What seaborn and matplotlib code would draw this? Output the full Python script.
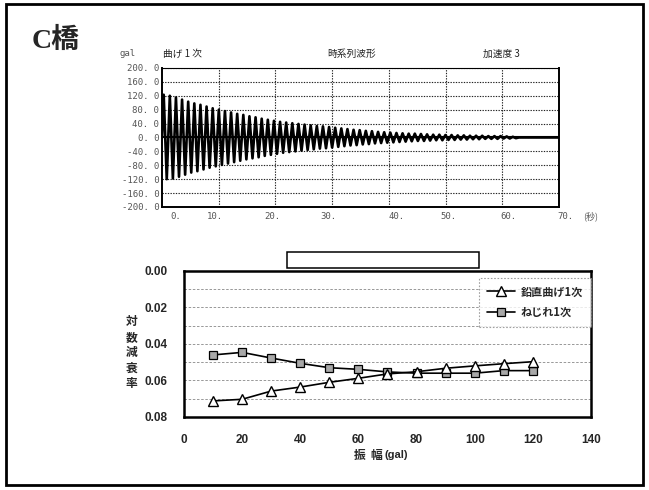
import matplotlib
matplotlib.use("Agg")
import matplotlib.pyplot as plt
import matplotlib.transforms as mtransforms
from matplotlib.patches import Rectangle
from matplotlib.lines import Line2D
import pandas as pd
import seaborn as sns

# ---- time history (acceleration, gal) : peak / trough of each cycle ----
wave_peaks = [123, 120, 115, 109, 103, 98, 94, 89, 84, 80,
              76, 72, 68, 65, 61, 58, 54, 51, 48, 45,
              43, 41, 39, 37, 35, 33, 32, 30, 28, 26,
              24, 22, 21, 19, 18, 16, 15, 14, 13, 12,
              11, 11, 10, 9, 8, 8, 7, 7, 6, 6,
              5, 5, 5, 4, 4, 4, 3, 2]
wave_troughs = [-120, -118, -113, -107, -101, -97, -92, -87, -83, -79,
                -75, -71, -67, -63, -60, -57, -53, -50, -47, -44,
                -42, -40, -38, -36, -34, -32, -31, -29, -27, -25,
                -23, -22, -20, -19, -17, -16, -15, -14, -13, -12,
                -11, -10, -10, -9, -8, -8, -7, -7, -6, -6,
                -5, -5, -4, -4, -4, -3, -3, -2]
wave_start = 0.3      # s, first peak
wave_period = 1.08    # s
record_end = 70.0     # s

top_yticks = [200, 160, 120, 80, 40, 0, -40, -80, -120, -160, -200]
top_xtick_labels = ["0.", "10.", "20.", "30.", "40.", "50.", "60.", "70."]

# ---- logarithmic decrement vs amplitude ----
amplitude = [10, 20, 30, 40, 50, 60, 70, 80, 90, 100, 110, 120]
vertical_bending = [0.0712, 0.0703, 0.0658, 0.0636, 0.0610, 0.0588,
                    0.0564, 0.0552, 0.0533, 0.0520, 0.0508, 0.0497]
torsion = [0.0460, 0.0446, 0.0477, 0.0506, 0.0530, 0.0539,
           0.0553, 0.0560, 0.0560, 0.0560, 0.0546, 0.0546]
series_names = ["鉛直曲げ1次", "ねじれ1次"]
bottom_yticks = [0.00, 0.02, 0.04, 0.06, 0.08]
bottom_xticks = [0, 20, 40, 60, 80, 100, 120, 140]

sns.set_style("white")
plt.rcParams["font.family"] = ["Noto Sans CJK JP", "DejaVu Sans"]

fig = plt.figure(figsize=(6.49, 4.90), dpi=100)
fig.patch.set_facecolor("white")

# outer frame
fig.add_artist(Rectangle((0.009, 0.010), 0.982, 0.982, transform=fig.transFigure,
                         fill=False, edgecolor="black", linewidth=2.0))

fig.text(0.049, 0.916, "C橋", fontsize=20, fontweight="bold",
         family=["Liberation Serif", "Noto Sans CJK JP"], va="center", ha="left")

# ---------------- upper panel: time history ----------------
ax1 = fig.add_axes([0.2496, 0.5776, 0.6117, 0.2837])

t_pts = [0.0]
a_pts = [0.0]
for i, (p, q) in enumerate(zip(wave_peaks, wave_troughs)):
    t_pts += [wave_start + i * wave_period, wave_start + (i + 0.5) * wave_period]
    a_pts += [p, q]
t_pts += [t_pts[-1] + wave_period / 2, record_end]
a_pts += [0.0, 0.0]
wave = pd.DataFrame({"t": t_pts, "acc": a_pts})

sns.lineplot(data=wave, x="t", y="acc", ax=ax1, color="black", linewidth=1.9,
             sort=False, estimator=None)
ax1.axhline(0, color="black", linewidth=1.5)

ax1.set_xlim(0, 70)
ax1.set_ylim(-200, 200)
ax1.set_xticks(range(10, 70, 10))
ax1.set_yticks(top_yticks)
ax1.set_xticklabels([])
ax1.set_yticklabels([f"{v:.1f}".replace(".", ". ") for v in top_yticks],
                    family="DejaVu Sans Mono", fontsize=6.5, color="#555")
ax1.tick_params(axis="both", length=0, pad=2)
ax1.grid(True, color="#222", linestyle=(0, (1.2, 1.2)), linewidth=0.8)
for side, sp in ax1.spines.items():
    sp.set_color("black")
    sp.set_linewidth(1.4 if side != "top" else 0.8)
    if side == "top":
        sp.set_linestyle((0, (1.5, 1)))
ax1.set_xlabel("")
ax1.set_ylabel("")

# x labels of the upper panel sit slightly off the grid lines
lab_pos = [2.5, 9.4, 19.4, 29.4, 41.3, 50.6, 61.0, 71.2]
trans_x = mtransforms.blended_transform_factory(ax1.transData, ax1.transAxes)
for xp, lab in zip(lab_pos, top_xtick_labels):
    ax1.text(xp, -0.07, lab, transform=trans_x, ha="center", va="center",
             family="DejaVu Sans Mono", fontsize=6.5, color="#555", clip_on=False)
ax1.text(75.5, -0.07, "(秒)", transform=trans_x, ha="center", va="center",
         fontsize=6.5, color="#555", clip_on=False)

fig.text(0.197, 0.890, "gal", fontsize=6.5, color="#555", ha="center", va="center",
         family="DejaVu Sans Mono")
fig.text(0.281, 0.890, "曲げ 1 次", fontsize=7, ha="center", va="center", color="#222")
fig.text(0.542, 0.890, "時系列波形", fontsize=7, ha="center", va="center", color="#222")
fig.text(0.773, 0.890, "加速度 3", fontsize=7, ha="center", va="center", color="#222")

# empty title box
fig.add_artist(Rectangle((0.4422, 0.4531), 0.2958, 0.0327, transform=fig.transFigure,
                         fill=False, edgecolor="black", linewidth=1.1))

# ---------------- lower panel: decrement vs amplitude ----------------
ax2 = fig.add_axes([0.2835, 0.1490, 0.6271, 0.2980])
damp = pd.DataFrame({
    "amp": amplitude * 2,
    "delta": vertical_bending + torsion,
    "mode": [series_names[0]] * len(amplitude) + [series_names[1]] * len(amplitude),
})
tri_style = dict(color="black", linewidth=1.2, marker="^", markersize=7,
                 markerfacecolor="white", markeredgecolor="black", markeredgewidth=1.0)
sq_style = dict(color="black", linewidth=1.2, marker="s", markersize=5.5,
                markerfacecolor="#a8a8a8", markeredgecolor="black", markeredgewidth=0.9)
sns.lineplot(data=damp[damp["mode"] == series_names[1]], x="amp", y="delta", ax=ax2,
             estimator=None, legend=False, **sq_style)
sns.lineplot(data=damp[damp["mode"] == series_names[0]], x="amp", y="delta", ax=ax2,
             estimator=None, legend=False, **tri_style)

ax2.set_xlim(0, 140)
ax2.set_ylim(0.08, 0.00)
ax2.set_xticks(bottom_xticks)
ax2.set_yticks(bottom_yticks)
bold_narrow = ["Liberation Sans Narrow", "Liberation Sans", "DejaVu Sans"]
ax2.set_xticklabels([str(v) for v in bottom_xticks], family=bold_narrow,
                    fontweight="bold", fontsize=8.5)
ax2.set_yticklabels([f"{v:.2f}" for v in bottom_yticks], family=bold_narrow,
                    fontweight="bold", fontsize=8.5)
ax2.tick_params(axis="x", length=0, pad=12)
ax2.tick_params(axis="y", length=0, pad=12)
for yv in [0.01, 0.02, 0.03, 0.04, 0.05, 0.06, 0.07]:
    ax2.axhline(yv, color="#888", linestyle=(0, (3, 2)), linewidth=0.6, zorder=0)
for side, sp in ax2.spines.items():
    sp.set_color("black")
    sp.set_linewidth(1.8)
ax2.set_xlabel("")
ax2.set_ylabel("")

fig.text(0.590, 0.071, "振  幅", fontsize=8.5, fontweight="bold", ha="right", va="center")
fig.text(0.592, 0.071, "(gal)", fontsize=8, fontweight="bold", ha="left", va="center",
         family=bold_narrow)
fig.text(0.203, 0.280, "対\n数\n減\n衰\n率", fontsize=8.5, fontweight="bold",
         ha="center", va="center", linespacing=1.25)

handles = [Line2D([], [], **tri_style), Line2D([], [], **sq_style)]
leg = ax2.legend(handles, series_names, loc="upper right", frameon=True,
                 bbox_to_anchor=(1.0, 0.955), fancybox=False, handlelength=2.6,
                 handletextpad=0.5, borderpad=0.7, labelspacing=0.7,
                 borderaxespad=0.0, prop={"weight": "bold", "size": 8})
leg.get_frame().set_edgecolor("#888")
leg.get_frame().set_linestyle((0, (1.5, 1.5)))
leg.get_frame().set_linewidth(0.8)

fig.savefig("out.png", dpi=100, facecolor="white")
